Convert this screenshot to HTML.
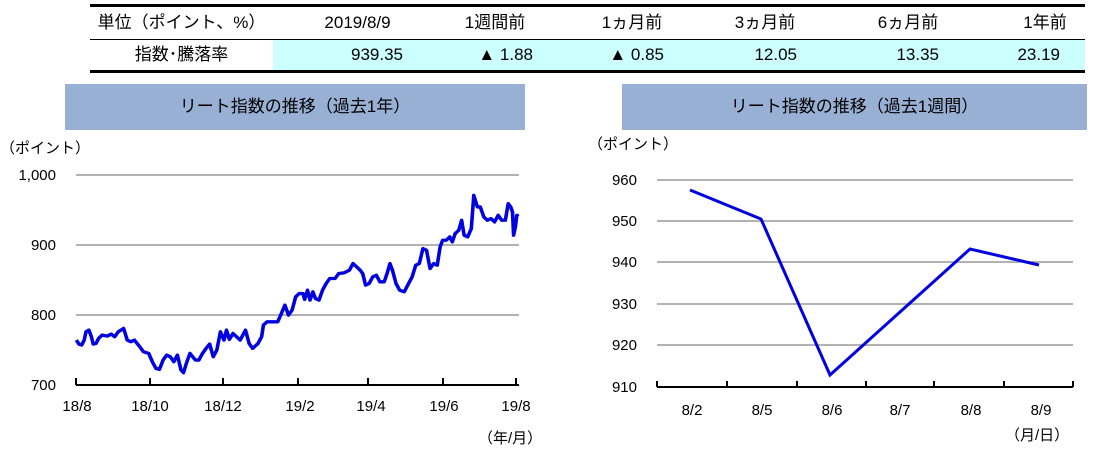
<!DOCTYPE html>
<html><head><meta charset="utf-8"><style>
body{margin:0;width:1094px;height:453px;background:#fff;overflow:hidden;position:relative;font-family:"Liberation Sans","Noto Sans CJK JP",sans-serif;color:#000}
.t{position:absolute;font-size:17px;white-space:nowrap;line-height:1}
.r{text-align:right}
.c{text-align:center}
</style></head><body>
<div style="position:absolute;left:90px;top:4px;width:995px;height:3px;background:#000"></div>
<div style="position:absolute;left:273px;top:40px;width:812px;height:31px;background:#ccffff"></div>
<div style="position:absolute;left:90px;top:39px;width:995px;height:1px;background:#000"></div>
<div style="position:absolute;left:90px;top:70px;width:995px;height:3px;background:#000"></div>
<div class="t c" style="left:90px;top:14px;width:183px">単位（ポイント、%）</div>
<div class="t c" style="left:310px;top:14px;width:95px">2019/8/9</div>
<div class="t c" style="left:450px;top:14px;width:90px">1週間前</div>
<div class="t c" style="left:587px;top:14px;width:90px">1ヵ月前</div>
<div class="t c" style="left:720px;top:14px;width:90px">3ヵ月前</div>
<div class="t c" style="left:863px;top:14px;width:90px">6ヵ月前</div>
<div class="t c" style="left:1005px;top:14px;width:80px">1年前</div>
<div class="t c" style="left:90px;top:46px;width:183px">指数･騰落率</div>
<div class="t r" style="left:300px;top:46px;width:103px">939.35</div>
<div class="t r" style="left:430px;top:46px;width:103px">▲ 1.88</div>
<div class="t r" style="left:561px;top:46px;width:103px">▲ 0.85</div>
<div class="t r" style="left:694px;top:46px;width:103px">12.05</div>
<div class="t r" style="left:836px;top:46px;width:103px">13.35</div>
<div class="t r" style="left:957px;top:46px;width:103px">23.19</div>

<div style="position:absolute;left:65px;top:84px;width:460px;height:46px;background:#98b0d4"></div>
<div class="t c" style="left:65px;top:98px;width:460px">リート指数の推移（過去1年）</div>
<div style="position:absolute;left:622px;top:84px;width:465px;height:46px;background:#98b0d4"></div>
<div class="t c" style="left:622px;top:98px;width:465px">リート指数の推移（過去1週間）</div>

<svg width="1094" height="453" style="position:absolute;left:0;top:0" font-family="Liberation Sans,Noto Sans CJK JP,sans-serif" font-size="15">
<g stroke="#999" stroke-width="1.5">
<line x1="76" y1="175" x2="519" y2="175"/><line x1="76" y1="245" x2="519" y2="245"/><line x1="76" y1="315" x2="519" y2="315"/>
<line x1="657" y1="180" x2="1073" y2="180"/><line x1="657" y1="221" x2="1073" y2="221"/><line x1="657" y1="262" x2="1073" y2="262"/><line x1="657" y1="304" x2="1073" y2="304"/><line x1="657" y1="345" x2="1073" y2="345"/>
</g>
<g stroke="#000" stroke-width="2">
<line x1="76" y1="385" x2="519" y2="385"/>
<line x1="76" y1="378" x2="76" y2="385"/><line x1="150" y1="378" x2="150" y2="385"/><line x1="223" y1="378" x2="223" y2="385"/><line x1="298" y1="378" x2="298" y2="385"/><line x1="368" y1="378" x2="368" y2="385"/><line x1="443" y1="378" x2="443" y2="385"/><line x1="516" y1="378" x2="516" y2="385"/>
<line x1="657" y1="387" x2="1073" y2="387"/>
<line x1="657" y1="381" x2="657" y2="387"/><line x1="727" y1="381" x2="727" y2="387"/><line x1="797" y1="381" x2="797" y2="387"/><line x1="866" y1="381" x2="866" y2="387"/><line x1="934" y1="381" x2="934" y2="387"/><line x1="1004" y1="381" x2="1004" y2="387"/><line x1="1073" y1="381" x2="1073" y2="387"/>
</g>
<g text-anchor="end">
<text x="56" y="180">1,000</text><text x="56" y="250">900</text><text x="56" y="320">800</text><text x="56" y="390">700</text>
<text x="637" y="185">960</text><text x="637" y="226">950</text><text x="637" y="267">940</text><text x="637" y="309">930</text><text x="637" y="350">920</text><text x="637" y="392">910</text>
</g>
<g text-anchor="middle">
<text x="77" y="411">18/8</text><text x="150" y="411">18/10</text><text x="223" y="411">18/12</text><text x="300" y="411">19/2</text><text x="371" y="411">19/4</text><text x="444" y="411">19/6</text><text x="516" y="411">19/8</text>
<text x="692" y="415">8/2</text><text x="762" y="415">8/5</text><text x="832" y="415">8/6</text><text x="900" y="415">8/7</text><text x="971" y="415">8/8</text><text x="1041" y="415">8/9</text>
</g>
<text x="0" y="153">（ポイント）</text>
<text x="478" y="443">（年/月）</text>
<text x="588" y="149">（ポイント）</text>
<text x="1005" y="440">（月/日）</text>
<g transform="translate(0,140.4) scale(0.3584,0.3328)">
<polyline fill="none" stroke="#0000e0" stroke-width="10" stroke-linejoin="round" points="213,600 220,612 228,615 235,600 240,575 248,570 255,590 260,612 268,610 275,595 285,585 300,588 310,582 320,590 330,575 345,565 355,600 365,605 375,600 390,620 400,635 415,640 425,665 435,685 445,688 455,660 465,645 475,650 485,665 495,645 505,690 512,698 520,670 530,640 545,660 555,660 565,640 575,625 585,612 595,650 605,630 615,575 625,600 632,570 640,598 650,580 660,590 670,600 685,570 695,610 705,625 720,610 730,590 735,555 745,545 760,545 775,545 785,520 795,495 805,525 815,510 825,470 835,460 845,460 850,478 858,450 865,480 873,455 880,475 890,480 900,450 910,430 920,415 935,415 945,400 960,398 975,390 985,370 995,380 1005,390 1012,400 1020,435 1030,430 1040,410 1050,405 1060,425 1072,425 1080,400 1088,370 1095,390 1105,430 1115,450 1128,455 1140,430 1150,410 1160,375 1170,370 1180,325 1190,330 1200,385 1210,370 1220,375 1228,320 1235,300 1245,300 1255,290 1262,305 1270,280 1280,270 1288,240 1295,285 1305,290 1315,265 1322,165 1332,200 1340,200 1350,230 1360,240 1370,235 1380,245 1390,225 1400,240 1410,240 1418,190 1425,200 1430,215 1433,285 1438,260 1442,225 1447,228"/>
</g>
<polyline fill="none" stroke="#0000e0" stroke-width="3" points="690,190 761,219 830,375 900,312 970,249 1039,265"/>
</svg>
</body></html>
